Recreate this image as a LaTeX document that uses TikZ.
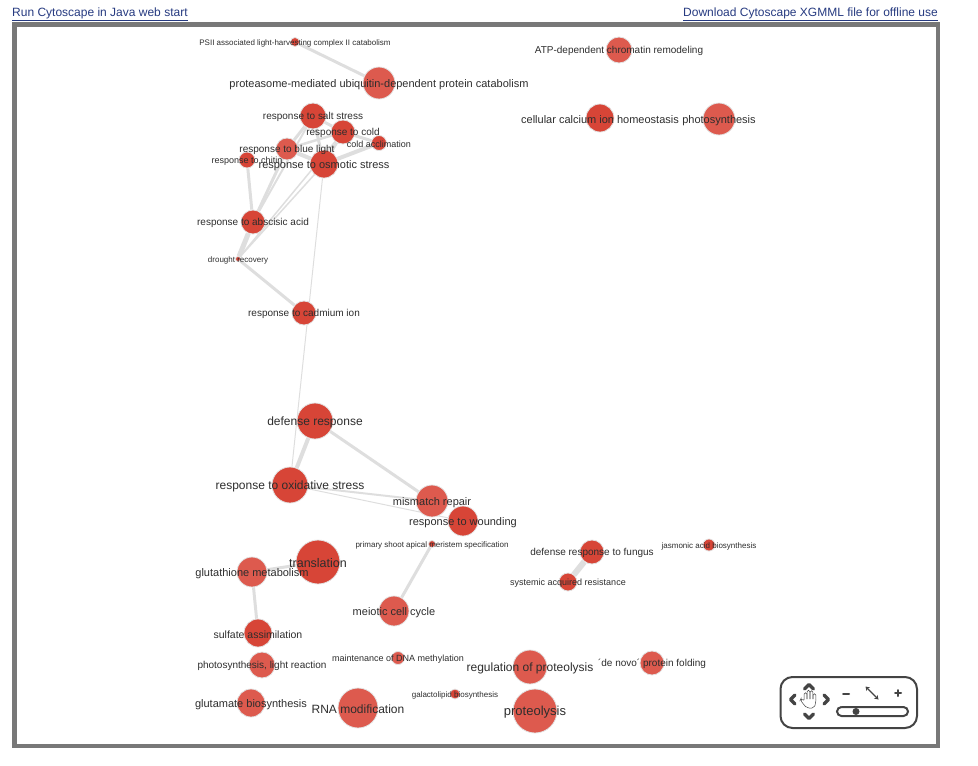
\documentclass[tikz,border=0pt]{standalone}
\usepackage{fontspec}
\setmainfont{Liberation Sans}
\usetikzlibrary{arrows.meta,backgrounds}
\definecolor{nodered}{RGB}{215,69,55}
\definecolor{nodelight}{RGB}{221,90,78}
\definecolor{edgegray}{RGB}{222,222,222}
\definecolor{lbltext}{RGB}{45,45,45}
\definecolor{linkblue}{RGB}{38,58,128}
\definecolor{framegray}{RGB}{120,120,120}
\definecolor{navgray}{RGB}{68,68,68}

\begin{document}
\begin{tikzpicture}[
  x=1pt,y=-1pt,
  term/.style={circle,fill=nodered,draw=gray!22,line width=0.8pt,
               minimum size=#1,inner sep=0pt},
  termlt/.style={term=#1,fill=nodelight},
  lbl/.style={font=\fontsize{#1}{#1}\selectfont,text=lbltext,inner sep=0pt,
              yshift=-1.3pt},
  link/.style={font=\fontsize{12}{12}\selectfont,text=linkblue,inner sep=0pt},
  edge/.style={draw=edgegray,line width=#1},
  navline/.style={draw=navgray,line width=2pt,line cap=round,line join=round}
]
\useasboundingbox (0,0) rectangle (978,766);

% header links
\node[link,anchor=base west] (runlink) at (12,16.5) {\underline{Run Cytoscape in Java web start}};
\node[link,anchor=base east] (xgmml) at (938,16.5) {\underline{Download Cytoscape XGMML file for offline use}};
\draw[framegray,line width=4.5pt] (14.5,24.5) rectangle (938,746);

% stress cluster
\node[term=9] (psii) at (295,42) {};
\node[termlt=32] (proteasome) at (379,83) {};
\node[term=26] (salt) at (313,116) {};
\node[term=24] (cold) at (343,132) {};
\node[term=15] (coldacc) at (379,143) {};
\node[termlt=22] (blue) at (287,149) {};
\node[term=16] (chitin) at (247,160) {};
\node[term=28] (osmotic) at (324,164) {};
\node[term=24] (abscisic) at (253,222) {};
\node[term=5] (drought) at (238,259) {};
\node[term=24] (cadmium) at (304,313) {};
\node[term=36] (defense) at (315,421) {};
\node[term=36] (oxid) at (290,485) {};
\node[termlt=32] (mismatch) at (432,501) {};
\node[term=30] (wound) at (463,521) {};

% loose terms
\node[termlt=26] (atp) at (619,50) {};
\node[term=28] (calcium) at (600,118) {};
\node[termlt=32] (photo) at (719,119) {};
\node[term=7] (shoot) at (432,544) {};
\node[term=44] (transl) at (318,562) {};
\node[termlt=30] (gluta) at (252,572) {};
\node[termlt=30] (meiotic) at (394,611) {};
\node[term=28] (sulfate) at (258,633) {};
\node[termlt=26] (lightreac) at (262,665) {};
\node[termlt=13] (dnameth) at (398,658) {};
\node[termlt=28] (glutamate) at (251,703) {};
\node[termlt=40] (rnamod) at (358,708) {};
\node[term=10] (galacto) at (455,694) {};
\node[termlt=34] (regprot) at (530,667) {};
\node[termlt=44] (proteol) at (535,711) {};
\node[termlt=24] (denovo) at (652,663) {};
\node[term=24] (fungus) at (592,552) {};
\node[term=18] (sar) at (568,582) {};
\node[term=12] (jasmonic) at (709,545) {};

% labels
\node[lbl=8] (psiiT) at (psii) {PSII associated light-harvesting complex II catabolism};
\node[lbl=11] (proteasomeT) at (proteasome) {proteasome-mediated ubiquitin-dependent protein catabolism};
\node[lbl=10] (saltT) at (salt) {response to salt stress};
\node[lbl=10] (coldT) at (cold) {response to cold};
\node[lbl=9] (coldaccT) at (coldacc) {cold acclimation};
\node[lbl=10] (blueT) at (blue) {response to blue light};
\node[lbl=9] (chitinT) at (chitin) {response to chitin};
\node[lbl=11] (osmoticT) at (osmotic) {response to osmotic stress};
\node[lbl=10] (abscisicT) at (abscisic) {response to abscisic acid};
\node[lbl=8] (droughtT) at (drought) {drought recovery};
\node[lbl=10] (cadmiumT) at (cadmium) {response to cadmium ion};
\node[lbl=12] (defenseT) at (defense) {defense response};
\node[lbl=12] (oxidT) at (oxid) {response to oxidative stress};
\node[lbl=11] (mismatchT) at (mismatch) {mismatch repair};
\node[lbl=11] (woundT) at (wound) {response to wounding};
\node[lbl=10] (atpT) at (atp) {ATP-dependent chromatin remodeling};
\node[lbl=11] (calciumT) at (calcium) {cellular calcium ion homeostasis};
\node[lbl=11] (photoT) at (photo) {photosynthesis};
\node[lbl=8] (shootT) at (shoot) {primary shoot apical meristem specification};
\node[lbl=12.5] (translT) at (transl) {translation};
\node[lbl=11] (glutaT) at (gluta) {glutathione metabolism};
\node[lbl=11] (meioticT) at (meiotic) {meiotic cell cycle};
\node[lbl=10.5] (sulfateT) at (sulfate) {sulfate assimilation};
\node[lbl=10] (lightreacT) at (lightreac) {photosynthesis, light reaction};
\node[lbl=9] (dnamethT) at (dnameth) {maintenance of DNA methylation};
\node[lbl=11] (glutamateT) at (glutamate) {glutamate biosynthesis};
\node[lbl=12] (rnamodT) at (rnamod) {RNA modification};
\node[lbl=8] (galactoT) at (galacto) {galactolipid biosynthesis};
\node[lbl=12] (regprotT) at (regprot) {regulation of proteolysis};
\node[lbl=13] (proteolT) at (proteol) {proteolysis};
\node[lbl=10] (denovoT) at (denovo) {´de novo´ protein folding};
\node[lbl=10] (fungusT) at (fungus) {defense response to fungus};
\node[lbl=9] (sarT) at (sar) {systemic acquired resistance};
\node[lbl=8] (jasmonicT) at (jasmonic) {jasmonic acid biosynthesis};

% edges under the terms
\begin{pgfonlayer}{background}
\draw[edge=3] (psii) -- (proteasome);
\draw[edge=3] (salt) -- (cold);
\draw[edge=3] (salt) -- (osmotic);
\draw[edge=3] (salt) -- (blue);
\draw[edge=2] (salt) -- (abscisic);
\draw[edge=3] (cold) -- (osmotic);
\draw[edge=3] (cold) -- (coldacc);
\draw[edge=2.5] (cold) -- (blue);
\draw[edge=1.5] (cold) -- (drought);
\draw[edge=4] (coldacc) -- (osmotic);
\draw[edge=4] (blue) -- (osmotic);
\draw[edge=3] (blue) -- (abscisic);
\draw[edge=3] (chitin) -- (abscisic);
\draw[edge=1.5] (osmotic) -- (drought);
\draw[edge=5] (abscisic) -- (drought);
\draw[edge=3] (drought) -- (cadmium);
\draw[edge=1] (osmotic) -- (oxid);
\draw[edge=4] (defense) -- (oxid);
\draw[edge=3] (defense) -- (mismatch);
\draw[edge=2] (oxid) -- (mismatch);
\draw[edge=1] (oxid) -- (wound);
\draw[edge=3] (shoot) -- (meiotic);
\draw[edge=3] (transl) -- (gluta);
\draw[edge=3] (gluta) -- (sulfate);
\draw[edge=6] (fungus) -- (sar);
\end{pgfonlayer}

% navigation widget
\draw[navgray,line width=2pt,rounded corners=12pt] (780.5,677) rectangle (917,728);
\draw[navline,line width=3.4pt] (804.5,689) -- (809,684.5) -- (813.5,689);
\draw[navline,line width=3.4pt] (804.5,714) -- (809,718.5) -- (813.5,714);
\draw[navline,line width=3.4pt] (795,695) -- (790.5,699.5) -- (795,704);
\draw[navline,line width=3.4pt] (824,695) -- (828.5,699.5) -- (824,704);
\foreach \fx/\fy in {805.5/694,808.5/691.5,811.5/692,814.5/695}
  \draw[navgray,line width=0.5pt] (\fx-1.3,699) -- (\fx-1.3,\fy)
    arc[start angle=180,end angle=360,radius=1.3] -- (\fx+1.3,699);
\draw[navgray,line width=0.5pt,rounded corners=2pt] (804.2,699) -- (804.2,701)
  -- (801,698.5) -- (800.3,700) -- (804.5,705.5) -- (807,708) -- (814,708)
  -- (815.8,703) -- (815.8,699);
\draw[navline] (843,694) -- (849,694);
\draw[navline] (895,693) -- (901,693) (898,690) -- (898,696);
\draw[navgray,line width=1.4pt,{Stealth[length=4pt,width=5pt]}-{Stealth[length=4pt,width=5pt]}]
  (865.5,686.5) -- (878.5,699.5);
\draw[navgray,line width=2pt] (841.5,707) -- (903.5,707)
  arc[start angle=-90,end angle=90,radius=4.5] -- (841.5,716)
  arc[start angle=90,end angle=270,radius=4.5];
\fill[navgray] (856,711.5) circle[radius=3.5];
\end{tikzpicture}
\end{document}
